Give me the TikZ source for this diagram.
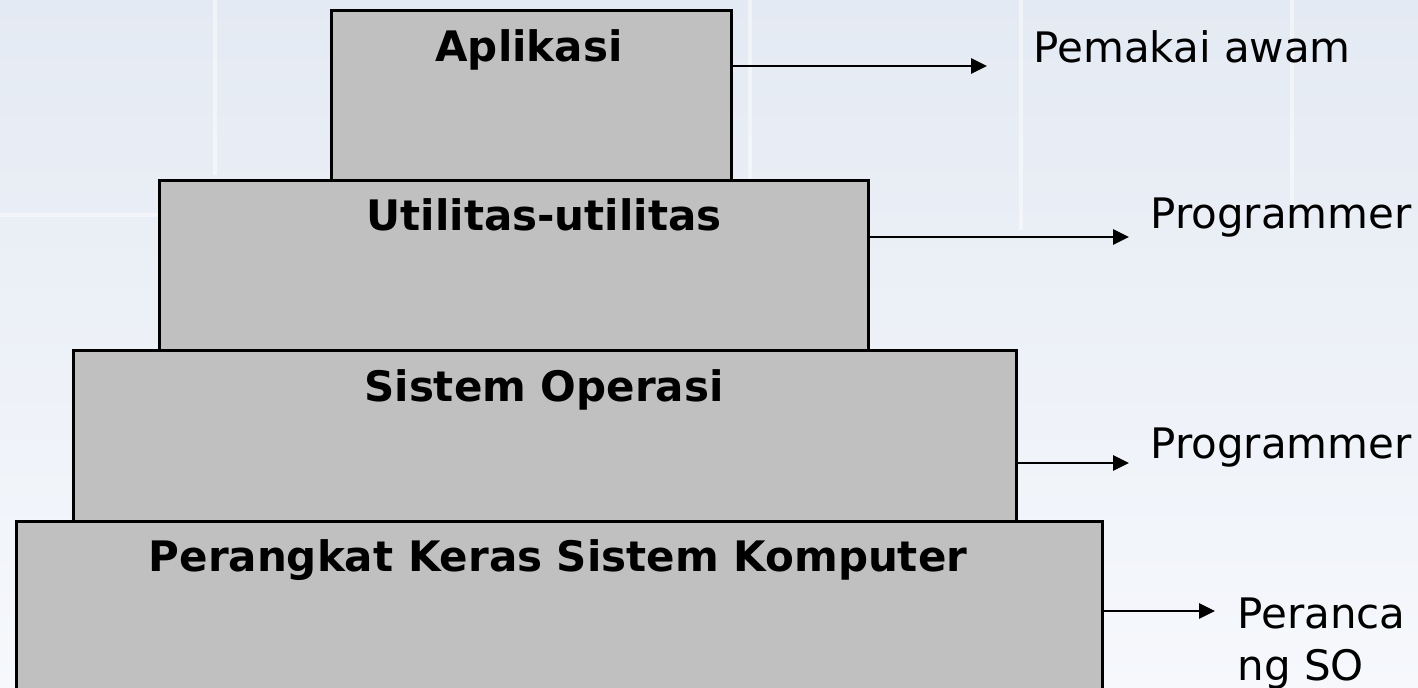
\documentclass[tikz,border=0pt]{standalone}
\usepackage{fontspec}
\setmainfont{DejaVu Sans}
\usetikzlibrary{arrows.meta}
\definecolor{bgtop}{RGB}{228,234,243}
\definecolor{bgbot}{RGB}{246,248,252}
\definecolor{layerfill}{RGB}{192,192,192}
\tikzset{
  layer/.style={draw=black, line width=1.4pt, fill=layerfill, rectangle, inner sep=0pt, anchor=north west},
  lbl/.style={font=\fontsize{21}{25}\selectfont\bfseries, anchor=base, inner sep=0pt},
  rlbl/.style={font=\fontsize{21}{25}\selectfont, anchor=base west, inner sep=0pt},
  arr/.style={line width=1.4pt, -{Triangle[length=8pt,width=7.5pt]}},
  glint/.style={white, opacity=0.45, line width=2pt}
}
\begin{document}
\begin{tikzpicture}[x=0.5pt,y=-0.5pt]
\useasboundingbox (0,0) rectangle (1418,688);
% background
\shade[top color=bgtop, bottom color=bgbot] (0,0) rectangle (1418,688);
\draw[glint] (215,0) -- (215,175);
\draw[glint] (750,0) -- (750,230);
\draw[glint] (1021,0) -- (1021,230);
\draw[glint] (1292,0) -- (1292,230);
\draw[glint] (0,215) -- (158,215);
% layers
\node[layer, minimum width=200pt, minimum height=85pt] (apl) at (330,9) {};
\node[layer, minimum width=354.5pt, minimum height=85pt] (utl) at (158,179) {};
\node[layer, minimum width=471.5pt, minimum height=85.5pt] (sis) at (72,349) {};
\node[layer, minimum width=543pt, minimum height=95pt] (hw) at (15,520) {};
% layer labels
\node[lbl] (aplt) at (529,62) {Aplikasi};
\node[lbl] (utlt) at (544,231) {Utilitas-utilitas};
\node[lbl] (sist) at (544,402) {Sistem Operasi};
\node[lbl] (hwt) at (558,572) {Perangkat Keras Sistem Komputer};
% right labels
\node[rlbl] (u1) at (1033,63) {Pemakai awam};
\node[rlbl] (u2) at (1150,229) {Programmer};
\node[rlbl] (u3) at (1150,459) {Programmer};
\node[rlbl] (u4a) at (1237,629) {Peranca};
\node[rlbl] (u4b) at (1237,681) {ng SO};
% arrows
\coordinate (t1) at (987,66);
\coordinate (t2) at (1129,237);
\coordinate (t3) at (1129,463);
\coordinate (t4) at (1215,611);
\draw[arr] (t1 -| apl.east) -- (t1);
\draw[arr] (t2 -| utl.east) -- (t2);
\draw[arr] (t3 -| sis.east) -- (t3);
\draw[arr] (t4 -| hw.east) -- (t4);
\end{tikzpicture}
\end{document}
